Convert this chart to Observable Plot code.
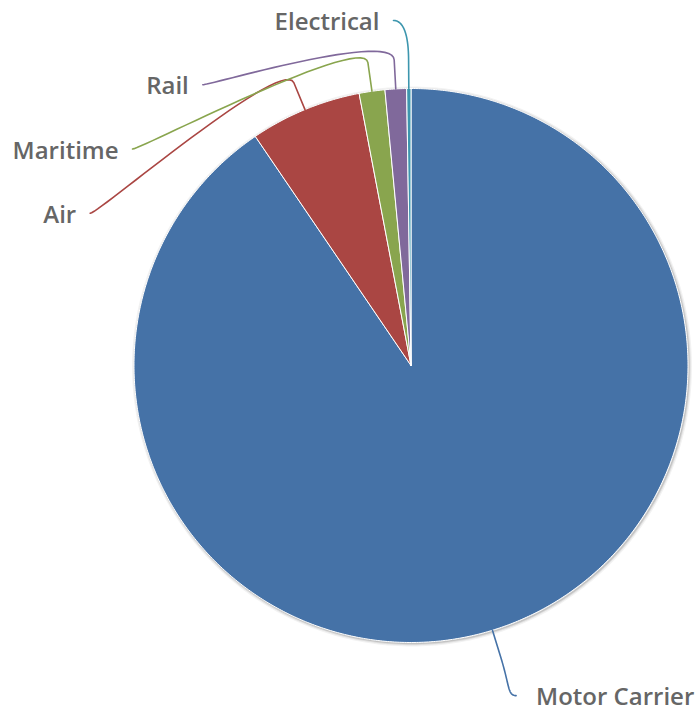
<!DOCTYPE html>
<html>
<head>
<meta charset="utf-8">
<script src="https://cdn.jsdelivr.net/npm/d3@7"></script>
<script src="https://cdn.jsdelivr.net/npm/@observablehq/plot@0.6"></script>
<style>
  html, body { margin: 0; padding: 0; background: #fff; }
  #chart svg { display: block; }
</style>
</head>
<body>
<div id="chart"></div>
<script>
// ---- data ----
const categories = ["Motor Carrier", "Air", "Maritime", "Rail", "Electrical"];
const shares = [90.5, 6.5, 1.5, 1.25, 0.25];
const colors = ["#4572A7", "#AA4643", "#89A54E", "#80699B", "#3D96AE"];

// ---- layout (unit circle = pie radius) ----
const W = 697, H = 711;
const cx = 410.5, cy = 365, R = 277;
const ringRx = 1.29, ringRy = 1.247;   // label ring
const slotTop = 1.2455;                // highest label slot
const breakR = 1.105;                  // connector break radius
const slotGap = 0.232;                 // label spacing

const total = d3.sum(shares);
const rows = categories.map((name, i) => ({name, value: shares[i], color: colors[i]}));
let acc = 0;
rows.forEach(d => {
  d.a0 = acc / total * 2 * Math.PI;
  acc += d.value;
  d.a1 = acc / total * 2 * Math.PI;
  d.mid = (d.a0 + d.a1) / 2;
});

// slice polygons
const slicePts = [];
rows.forEach(d => {
  slicePts.push({name: d.name, color: d.color, x: 0, y: 0});
  const n = Math.max(2, Math.ceil((d.a1 - d.a0) / (Math.PI / 360)));
  for (let k = 0; k <= n; k++) {
    const a = d.a0 + (d.a1 - d.a0) * k / n;
    slicePts.push({name: d.name, color: d.color, x: Math.sin(a), y: -Math.cos(a)});
  }
  slicePts.push({name: d.name, color: d.color, x: 0, y: 0});
});

// outline (shadow)
const circlePts = d3.range(0, 361, 1).map(t => ({x: Math.sin(t * Math.PI / 180), y: -Math.cos(t * Math.PI / 180)}));

// label placement: left half stacked from top, right half natural
const left = rows.filter(d => d.mid > Math.PI).sort((a, b) => b.mid - a.mid);
const right = rows.filter(d => d.mid <= Math.PI);
let prev = -Infinity;
left.forEach(d => {
  const natural = Math.max(-ringRy * Math.cos(d.mid), -slotTop);
  d.ly = Math.max(natural, prev + slotGap);
  prev = d.ly;
  d.side = -1;
});
right.forEach(d => {
  d.ly = Math.min(-ringRy * Math.cos(d.mid), slotTop);
  d.side = 1;
});
rows.forEach(d => {
  const t = Math.min(1, Math.abs(d.ly) / ringRy);
  d.lx = d.side * ringRx * Math.sqrt(1 - t * t);
});

// connectors (soft: cubic bezier to break point, then straight to slice edge)
const connPts = [];
rows.forEach(d => {
  const tx = Math.sin(d.mid), ty = -Math.cos(d.mid);
  const bx = breakR * tx, by = breakR * ty;
  const p0 = [d.lx, d.ly];
  const p1 = [d.lx - d.side * 0.03, d.ly];
  const p2 = [2 * bx - tx, 2 * by - ty];
  const p3 = [bx, by];
  const n = 30;
  for (let k = 0; k <= n; k++) {
    const t = k / n, u = 1 - t;
    connPts.push({
      name: d.name, color: d.color,
      x: u*u*u*p0[0] + 3*u*u*t*p1[0] + 3*u*t*t*p2[0] + t*t*t*p3[0],
      y: u*u*u*p0[1] + 3*u*u*t*p1[1] + 3*u*t*t*p2[1] + t*t*t*p3[1]
    });
  }
  connPts.push({name: d.name, color: d.color, x: tx, y: ty});
});

const labelStyle = {
  x: "lx", y: "ly", text: "name", dy: 2,
  fill: "#666666",
  fontSize: 24,
  fontWeight: 600,
  fontFamily: "'Open Sans', sans-serif"
};

const chart = Plot.plot({
  width: W,
  height: H,
  margin: 0,
  style: {background: "#fff", overflow: "visible"},
  x: {domain: [-1, 1], range: [cx - R, cx + R], axis: null},
  y: {domain: [-1, 1], range: [cy - R, cy + R], axis: null},
  color: {type: "identity"},
  marks: [
    Plot.line(circlePts, {x: "x", y: "y", stroke: "#000", strokeOpacity: 0.05, strokeWidth: 6, dx: 1, dy: 1}),
    Plot.line(circlePts, {x: "x", y: "y", stroke: "#000", strokeOpacity: 0.08, strokeWidth: 3.5, dx: 1, dy: 1}),
    Plot.line(circlePts, {x: "x", y: "y", stroke: "#000", strokeOpacity: 0.12, strokeWidth: 1.5, dx: 1, dy: 1}),
    Plot.line(slicePts, {x: "x", y: "y", z: "name", fill: "color", stroke: "#fff", strokeWidth: 1, strokeLinejoin: "round"}),
    Plot.line(connPts, {x: "x", y: "y", z: "name", stroke: "color", strokeWidth: 1.6, curve: "linear"}),
    Plot.text(rows.filter(d => d.side < 0), {...labelStyle, textAnchor: "end", dx: -14}),
    Plot.text(rows.filter(d => d.side > 0), {...labelStyle, textAnchor: "start", dx: 20})
  ]
});
document.getElementById("chart").append(chart);
</script>
</body>
</html>
